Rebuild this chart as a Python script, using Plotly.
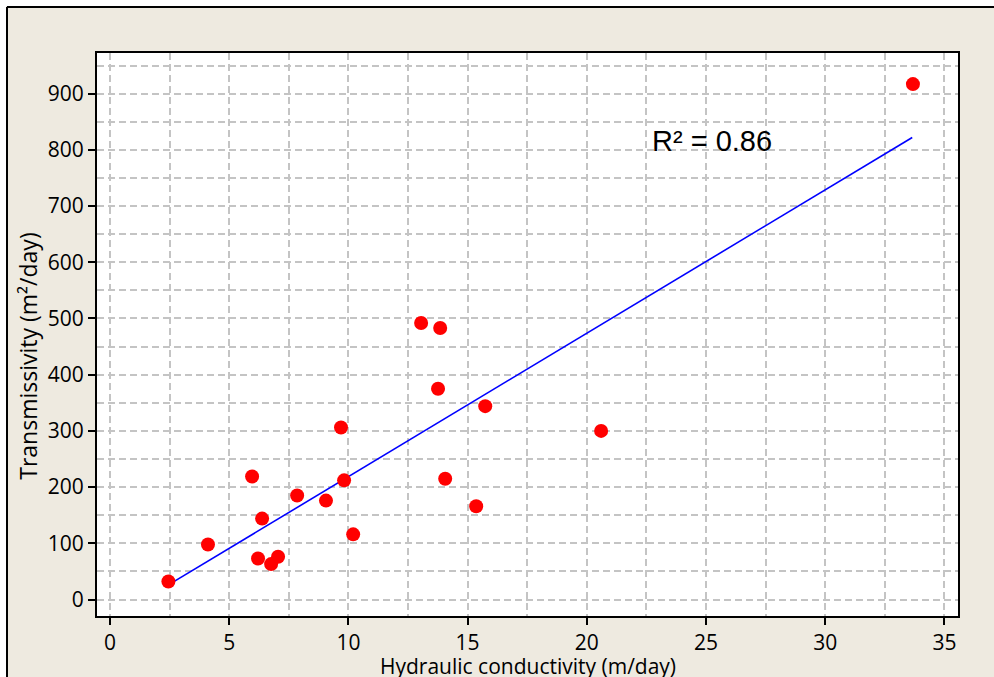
import plotly.graph_objects as go

# Data
hydraulic_conductivity = [2.45, 4.11, 5.96, 6.38, 6.21, 6.76, 7.05, 7.85, 9.06, 9.69,
                          9.82, 10.2, 13.05, 13.85, 13.76, 14.06, 15.36, 15.74, 20.6, 33.68]
transmissivity = [32, 98, 219, 144, 73, 63, 76, 185, 176, 306,
                  212, 116, 492, 483, 375, 215, 166, 344, 300, 917]
fit_x = [2.45, 33.65]
fit_y = [26, 822]
r2_label = "R² = 0.86"
x_title = "Hydraulic conductivity (m/day)"
y_title = "Transmissivity (m²/day)"
x_ticks = [0, 5, 10, 15, 20, 25, 30, 35]
y_ticks = [0, 100, 200, 300, 400, 500, 600, 700, 800, 900]

FONT = "Open Sans"
PAPER = "#EEEAE0"
GRID = "#C4C4C4"

# figure is placed at page offset (6, 6)
W, H = 988, 671
ML, MT, MR, MB = 91, 47, 36, 60.5
PW, PH = W - ML - MR, H - MT - MB

fig = go.Figure()
fig.add_trace(go.Scatter(x=fit_x, y=fit_y, mode="lines",
                         line=dict(color="#0000FF", width=1.6),
                         showlegend=False, hoverinfo="skip"))
fig.add_trace(go.Scatter(x=hydraulic_conductivity, y=transmissivity, mode="markers",
                         marker=dict(color="#FF0000", size=14, line=dict(width=0)),
                         showlegend=False))

axis_common = dict(
    showline=True, linecolor="black", linewidth=2, mirror=True,
    ticks="outside", ticklen=7, tickwidth=2, tickcolor="black",
    showgrid=True, gridcolor=GRID, gridwidth=1.5, griddash="7px,4px",
    zeroline=False,
    tickfont=dict(family=FONT, size=21, color="black"),
)

bx = (1 - ML) / PW
by = (PH + MT - 1) / PH

fig.update_layout(
    width=W, height=H,
    margin=dict(l=ML, r=MR, t=MT, b=MB),
    paper_bgcolor=PAPER, plot_bgcolor="white",
    font=dict(family=FONT, color="black"),
    xaxis=dict(range=[-0.545, 35.57], tickvals=x_ticks,
               minor=dict(dtick=2.5, tick0=0, showgrid=True, gridcolor=GRID,
                          gridwidth=1.5, griddash="7px,4px", ticks=""),
               **axis_common),
    yaxis=dict(range=[-29.3, 972.3], tickvals=y_ticks,
               minor=dict(dtick=50, tick0=0, showgrid=True, gridcolor=GRID,
                          gridwidth=1.5, griddash="7px,4px", ticks=""),
               **axis_common),
    annotations=[
        dict(x=22.65, y=816, xref="x", yref="y", text=r2_label, showarrow=False,
             xanchor="left", yanchor="middle",
             font=dict(family="Liberation Sans", size=29, color="black")),
        dict(x=0.5, y=-(667 - 616.5) / PH, xref="paper", yref="paper", text=x_title,
             showarrow=False, xanchor="center", yanchor="middle",
             font=dict(family=FONT, size=21, color="black")),
        dict(x=(28 - 97) / PW, y=(616.5 - 357) / PH, xref="paper", yref="paper",
             text=y_title, showarrow=False,
             xanchor="center", yanchor="middle", textangle=-90,
             font=dict(family=FONT, size=23, color="black")),
    ],
    shapes=[
        dict(type="line", xref="paper", yref="paper", x0=bx, x1=1.2, y0=by, y1=by,
             line=dict(color="black", width=2)),
        dict(type="line", xref="paper", yref="paper", x0=bx, x1=bx, y0=by, y1=-0.2,
             line=dict(color="black", width=2)),
    ],
)

fig.write_html(
    "out.html",
    post_script="document.body.style.margin='6px 0 0 6px';"
                "document.body.style.overflow='hidden';",
)
